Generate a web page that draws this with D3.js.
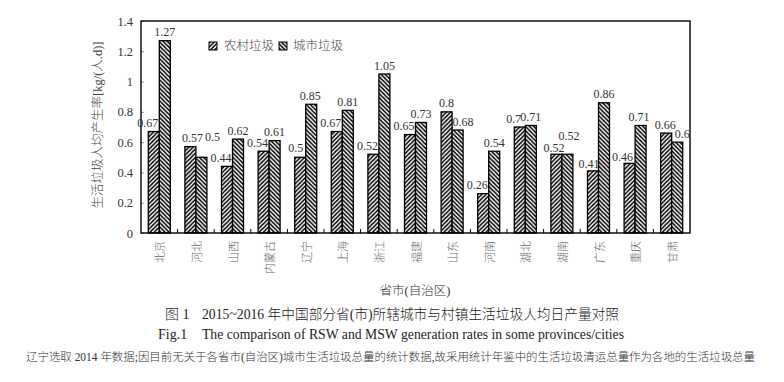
<!DOCTYPE html>
<html><head><meta charset="utf-8">
<script src="https://cdn.jsdelivr.net/npm/d3@7/dist/d3.min.js"></script>
<style>body{margin:0;background:#fff} text{font-weight:300}</style>
</head><body>
<svg id="c" width="784" height="382"></svg>
<script>
// ---------------- data ----------------
const categories = ["北京","河北","山西","内蒙古","辽宁","上海","浙江","福建","山东","河南","湖北","湖南","广东","重庆","甘肃"];
const ruralValues = [0.67,0.57,0.44,0.54,0.5,0.67,0.52,0.65,0.8,0.26,0.7,0.52,0.41,0.46,0.66];
const urbanValues = [1.27,0.5,0.62,0.61,0.85,0.81,1.05,0.73,0.68,0.54,0.71,0.52,0.86,0.71,0.6];
const seriesNames = ["农村垃圾","城市垃圾"];
const yTicks = [0,0.2,0.4,0.6,0.8,1,1.2,1.4];
const yTickLabels = ["0","0.2","0.4","0.6","0.8","1","1.2","1.4"];
const yAxisTitle = "生活垃圾人均产生率[kg/(人.d)]";
const xAxisTitle = "省市(自治区)";
const captionCnNum = "图 1";
const captionCn = "2015~2016 年中国部分省(市)所辖城市与村镇生活垃圾人均日产量对照";
const captionEnNum = "Fig.1";
const captionEn = "The comparison of RSW and MSW generation rates in some provinces/cities";
const footnote = "辽宁选取 2014 年数据;因目前无关于各省市(自治区)城市生活垃圾总量的统计数据,故采用统计年鉴中的生活垃圾清运总量作为各地的生活垃圾总量";

// ---------------- layout ----------------
const L = 141, R = 690, T = 21, B = 233;
const barW = 11;
const serif = "'Liberation Serif','Noto Sans CJK SC',serif";
// manual label nudges (dx, dy) per category, as in the original figure
const labelNudge = {
  "河北":  {r:[8,0],   u:[11,-11.5]},
  "辽宁":  {r:[1.5,-1],u:[-1,0]},
  "山东":  {r:[6,0],   u:[5.5,0]},
  "湖南":  {r:[3.5,2], u:[1.5,-9.5]},
  "广东":  {r:[2,2],   u:[0,0]},
  "重庆":  {r:[-1,2],  u:[-1.5,0]},
  "甘肃":  {r:[5,0],   u:[5,0]}
};

const svg = d3.select("#c");

// patterns
const defs = svg.append("defs");
function hatch(id, dir){
  const p = defs.append("pattern").attr("id", id).attr("patternUnits","userSpaceOnUse")
    .attr("width", 4.2).attr("height", 4.2);
  p.append("rect").attr("width",4.2).attr("height",4.2).attr("fill","#fff");
  const d = dir > 0
    ? "M-1,1.05 L1.05,-1 M0,4.2 L4.2,0 M3.15,5.2 L5.2,3.15"
    : "M-1,3.15 L1.05,5.2 M0,0 L4.2,4.2 M3.15,-1 L5.2,1.05";
  p.append("path").attr("d", d).attr("stroke","#000").attr("stroke-width",1.5);
}
hatch("patR", 1);
hatch("patU", -1);

const x = d3.scaleBand().domain(categories).range([L, R]).paddingInner(0).paddingOuter(0);
const xs = d3.scaleBand().domain(["r","u"]).range([-barW, barW]);
const y = d3.scaleLinear().domain([0, 1.4]).range([B, T]);

// y axis ticks & labels
const yAxis = d3.axisLeft(y).tickValues(yTicks).tickSize(-3).tickPadding(8)
  .tickFormat((d,i) => yTickLabels[i]);
const ya = svg.append("g").attr("transform", `translate(${L},0)`).call(yAxis);
ya.select(".domain").remove();
ya.selectAll(".tick line").attr("stroke","#999").attr("stroke-width",1);
ya.selectAll(".tick text").attr("font-family", serif).attr("font-size", 12.5).attr("fill","#333");

// bars
const rows = categories.map((c,i) => ({c, r: ruralValues[i], u: urbanValues[i]}));
const g = svg.append("g");
rows.forEach(d => {
  const cx = x(d.c) + x.bandwidth()/2;
  [["r", d.r, "patR"], ["u", d.u, "patU"]].forEach(([k, v, pat]) => {
    g.append("rect")
      .attr("x", cx + xs(k)).attr("y", y(v))
      .attr("width", barW).attr("height", y(0) - y(v))
      .attr("fill", `url(#${pat})`).attr("stroke","#000").attr("stroke-width",1.3);
  });
});

// x category ticks (inside)
categories.forEach((c,i) => {
  if (i === 0) return;
  svg.append("line").attr("x1", x(c)).attr("x2", x(c)).attr("y1", B).attr("y2", B-4)
    .attr("stroke","#000").attr("stroke-width",1);
});

// frame
svg.append("rect").attr("x", L).attr("y", T).attr("width", R-L).attr("height", B-T)
  .attr("fill","none").attr("stroke","#000").attr("stroke-width",1.4);

// value labels
const lab = svg.append("g").attr("font-family", serif).attr("font-size", 12).attr("fill","#333")
  .attr("text-anchor","middle");
rows.forEach(d => {
  const cx = x(d.c) + x.bandwidth()/2;
  const n = labelNudge[d.c] || {r:[0,0], u:[0,0]};
  const rx = cx - barW/2 - 6 + n.r[0], ry = y(d.r) - 4.5 + n.r[1];
  const ux = cx + barW/2 + n.u[0], uy = y(d.u) - 4.5 + n.u[1];
  lab.append("text").attr("x", rx).attr("y", ry).text(String(d.r));
  lab.append("text").attr("x", ux).attr("y", uy).text(String(d.u));
});

// x category labels (rotated, reading bottom to top, top-aligned)
const xl = svg.append("g").attr("font-family","'Noto Sans CJK SC',sans-serif").attr("font-size",11)
  .attr("fill","#666").attr("text-anchor","end");
categories.forEach(c => {
  const cx = x(c) + x.bandwidth()/2;
  xl.append("text").attr("transform", `translate(${cx},241) rotate(-90)`)
    .attr("dominant-baseline","central").text(c);
});

// legend
const leg = [[209, "patR", seriesNames[0], 224], [279, "patU", seriesNames[1], 293]];
leg.forEach(([lx, pat, name, tx]) => {
  svg.append("rect").attr("x", lx).attr("y", 42).attr("width", 8).attr("height", 8)
    .attr("fill", `url(#${pat})`).attr("stroke","#000").attr("stroke-width",1);
  svg.append("text").attr("x", tx).attr("y", 50).attr("font-family", serif)
    .attr("font-size", 12.5).attr("fill","#444").text(name);
});

// y axis title
svg.append("text").attr("transform","translate(102,125) rotate(-90)")
  .attr("text-anchor","middle").attr("font-family", serif).attr("font-size", 12.5)
  .attr("fill","#444").text(yAxisTitle);

// x axis title
svg.append("text").attr("x", 415).attr("y", 295).attr("text-anchor","middle")
  .attr("font-family", serif).attr("font-size", 12.5).attr("fill","#333").text(xAxisTitle);

// captions
svg.append("text").attr("x", 165).attr("y", 319).attr("font-family", serif).attr("font-size", 14)
  .attr("fill","#222").text(captionCnNum);
svg.append("text").attr("x", 202).attr("y", 319).attr("font-family", serif).attr("font-size", 14)
  .attr("fill","#222").attr("textLength", 417).attr("lengthAdjust","spacingAndGlyphs").text(captionCn);
svg.append("text").attr("x", 158).attr("y", 339).attr("font-family", serif).attr("font-size", 14)
  .attr("fill","#222").text(captionEnNum);
svg.append("text").attr("x", 202).attr("y", 339).attr("font-family", serif).attr("font-size", 14)
  .attr("fill","#222").attr("textLength", 422).attr("lengthAdjust","spacingAndGlyphs").text(captionEn);
svg.append("text").attr("x", 26).attr("y", 360.5).attr("font-family", serif).attr("font-size", 11.5)
  .attr("fill","#333").attr("textLength", 729).attr("lengthAdjust","spacingAndGlyphs").text(footnote);
</script>
</body></html>
